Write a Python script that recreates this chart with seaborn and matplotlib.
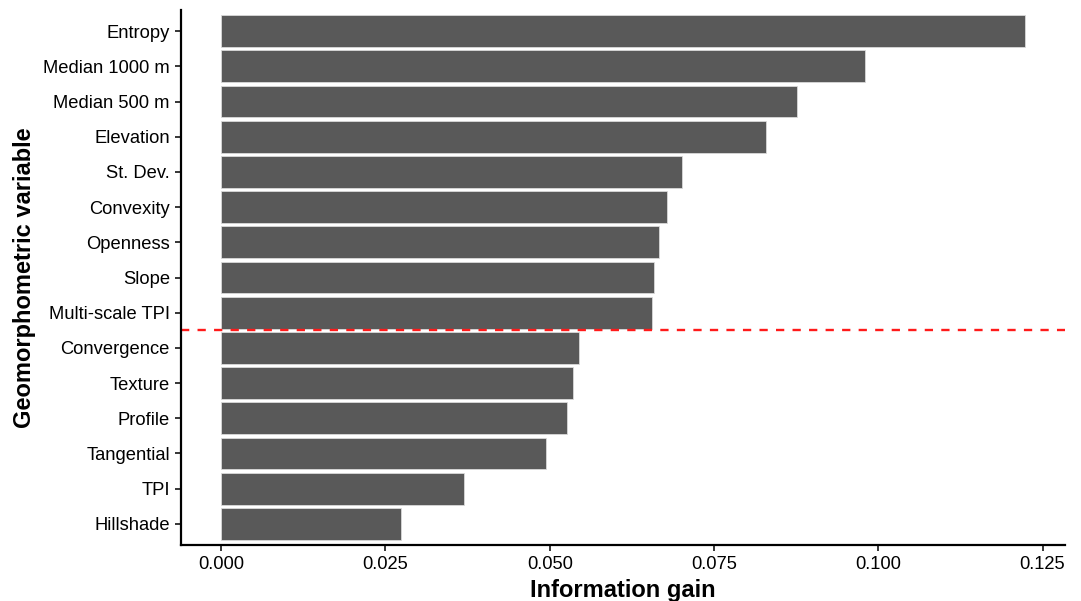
import matplotlib
matplotlib.use("Agg")
import matplotlib.pyplot as plt
import seaborn as sns
import pandas as pd

# Information gain per geomorphometric variable (sorted, highest first)
variables = [
    "Entropy", "Median 1000 m", "Median 500 m", "Elevation", "St. Dev.",
    "Convexity", "Openness", "Slope", "Multi-scale TPI", "Convergence",
    "Texture", "Profile", "Tangential", "TPI", "Hillshade",
]
info_gain = [
    0.1223, 0.0980, 0.0876, 0.0829, 0.0702,
    0.0679, 0.0666, 0.0658, 0.0656, 0.0544,
    0.0535, 0.0526, 0.0495, 0.0370, 0.0274,
]
x_ticks = [0.000, 0.025, 0.050, 0.075, 0.100, 0.125]
cutoff_after = "Multi-scale TPI"

df = pd.DataFrame({"variable": variables, "gain": info_gain})

sns.set_theme(style="ticks")
plt.rcParams["font.family"] = ["Liberation Sans", "DejaVu Sans"]

fig = plt.figure(figsize=(10.81, 6.01), dpi=100)
ax = fig.add_axes([181 / 1081, 1 - 545 / 601, (1065 - 181) / 1081, (545 - 10) / 601])

sns.barplot(data=df, x="gain", y="variable", order=variables, orient="h",
            color="#595959", saturation=1, width=0.9,
            edgecolor="#d9d9d9", linewidth=0.6, ax=ax)

# threshold separating the selected variables
cut = variables.index(cutoff_after) + 0.5
ax.axhline(cut, color="#ff1a1a", linestyle=(0, (3.5, 3.5)), linewidth=1.7)

xmax = max(info_gain)
pad = 0.05 * xmax
ax.set_xlim(-pad, xmax + pad)
ax.set_ylim(len(variables) - 1 + 0.6, -0.6)
ax.set_xticks(x_ticks)
ax.set_xticklabels([f"{t:.3f}" for t in x_ticks])

ax.set_xlabel("Information gain", fontsize=17, fontweight="bold",
              color="black", labelpad=4)
ax.set_ylabel("Geomorphometric variable", fontsize=17, fontweight="bold",
              color="black", labelpad=5)

for s in ["top", "right"]:
    ax.spines[s].set_visible(False)
for s in ["left", "bottom"]:
    ax.spines[s].set_linewidth(1.6)
    ax.spines[s].set_color("black")
ax.tick_params(axis="both", labelsize=13.2, colors="black", length=4, width=1.1, pad=4)

fig.savefig("out.png", dpi=100, facecolor="white")
